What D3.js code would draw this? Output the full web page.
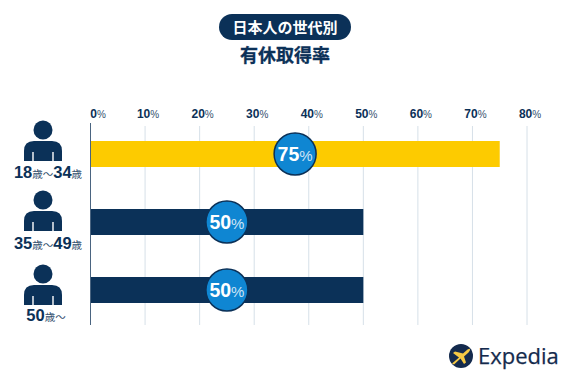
<!DOCTYPE html>
<html lang="ja">
<head>
<meta charset="utf-8">
<script src="https://d3js.org/d3.v7.min.js"></script>
<style>
  html, body { margin: 0; padding: 0; background: #fff; }
  svg { display: block; }
  text { font-family: "Liberation Sans", "Noto Sans CJK JP", sans-serif; }
</style>
</head>
<body>
<div id="chart"></div>
<script>
// Chart data
const ageGroups = ["18-34", "35-49", "50+"];
const leaveRates = [75, 50, 50];
const ageLabels = [
  [["18", "big"], ["歳", "small"], ["～", "small"], ["34", "big"], ["歳", "small"]],
  [["35", "big"], ["歳", "small"], ["～", "small"], ["49", "big"], ["歳", "small"]],
  [["50", "big"], ["歳", "small"], ["～", "small"]]
];
const axisTicks = [0, 10, 20, 30, 40, 50, 60, 70, 80];
const badgeTitle = "日本人の世代別";
const mainTitle = "有休取得率";

// Layout of the left column, the icons are not evenly spaced in the original
const personY = [130, 200, 274];
const labelY = [177.5, 249, 320.5];
const labelX = [48, 48, 46];

const navy = "#0b3158", yellow = "#fdcb00", blue = "#0f86d2", grid = "#d6e0e8";
const width = 570, height = 380;

const svg = d3.select("#chart").append("svg")
  .attr("width", width)
  .attr("height", height);

// Scales
const x = d3.scaleLinear().domain([0, 80]).range([90.5, 527]);
const y = d3.scalePoint().domain(ageGroups).range([154, 290]);
const barHeight = 26;

// Titles
svg.append("rect")
  .attr("x", 219).attr("y", 14)
  .attr("width", 132).attr("height", 26)
  .attr("rx", 13)
  .attr("fill", navy);

svg.append("text")
  .attr("x", 285).attr("y", 32.5)
  .attr("text-anchor", "middle")
  .attr("font-size", 15)
  .attr("font-weight", 700)
  .attr("fill", "#fff")
  .style("font-family", "'Noto Sans CJK JP'")
  .text(badgeTitle);

svg.append("text")
  .attr("x", 285).attr("y", 62)
  .attr("text-anchor", "middle")
  .attr("font-size", 18)
  .attr("font-weight", 700)
  .attr("fill", navy)
  .attr("stroke", navy)
  .attr("stroke-width", 0.3)
  .style("font-family", "'Noto Sans CJK JP'")
  .text(mainTitle);

// Grid lines
svg.append("g")
  .selectAll("line")
  .data(axisTicks.slice(1))
  .enter().append("line")
  .attr("x1", d => x(d)).attr("x2", d => x(d))
  .attr("y1", 126).attr("y2", 325)
  .attr("stroke", grid)
  .attr("stroke-width", 1);

// Top axis, labels restyled so the % sign is smaller
const axis = svg.append("g")
  .attr("transform", "translate(0,118)")
  .call(d3.axisTop(x).tickValues(axisTicks).tickSize(0).tickPadding(0));
axis.select(".domain").remove();
axis.selectAll("text").each(function(d) {
  const t = d3.select(this).text("")
    .attr("dx", d === 0 ? 7 : 2.5)
    .attr("dy", 0)
    .attr("fill", navy)
    .style("font-family", "'Liberation Sans'");
  t.append("tspan").attr("font-size", 12).attr("font-weight", 700).text(d);
  t.append("tspan").attr("font-size", 10).attr("fill", "#33506e").text("%");
});

// Bars
svg.selectAll(".bar")
  .data(ageGroups)
  .enter().append("rect")
  .attr("class", "bar")
  .attr("x", x(0))
  .attr("y", d => y(d) - barHeight / 2)
  .attr("width", (d, i) => x(leaveRates[i]) - x(0))
  .attr("height", barHeight)
  .attr("fill", (d, i) => i === 0 ? yellow : navy);

// Vertical axis line
svg.append("line")
  .attr("x1", x(0)).attr("x2", x(0))
  .attr("y1", 123).attr("y2", 325)
  .attr("stroke", "#4a6480")
  .attr("stroke-width", 1);

// Value bubbles sit at the middle of each bar
const bubble = svg.selectAll(".bubble")
  .data(ageGroups)
  .enter().append("g")
  .attr("class", "bubble")
  .attr("transform", (d, i) => `translate(${x(leaveRates[i] / 2)},${y(d)})`);

bubble.append("circle")
  .attr("r", 21)
  .attr("fill", blue)
  .attr("stroke", navy)
  .attr("stroke-width", 1.5);

const bubbleText = bubble.append("text")
  .attr("text-anchor", "middle")
  .attr("y", 6.5)
  .attr("fill", "#fff")
  .style("font-family", "'Liberation Sans'");
bubbleText.append("tspan").attr("font-size", 19.5).attr("font-weight", 700)
  .text((d, i) => leaveRates[i]);
bubbleText.append("tspan").attr("font-size", 15).attr("font-weight", 400)
  .attr("fill-opacity", 0.8).text("%");

// Person icons, origin is the centre of the head
const person = svg.selectAll(".person")
  .data(ageGroups)
  .enter().append("g")
  .attr("class", "person")
  .attr("transform", (d, i) => `translate(43,${personY[i]})`);

person.append("circle")
  .attr("r", 9.5)
  .attr("fill", navy);

person.append("path")
  .attr("fill", navy)
  .attr("d", "M-19,31 V21 Q-19,11 -9,11 H9 Q19,11 19,21 V31 H10.7 V22 H9.3 V31 H-9.3 V22 H-10.7 V31 Z");

// Age labels
svg.selectAll(".age-label")
  .data(ageGroups)
  .enter().append("text")
  .attr("class", "age-label")
  .attr("x", (d, i) => labelX[i])
  .attr("y", (d, i) => labelY[i])
  .attr("text-anchor", "middle")
  .each(function(d, i) {
    const t = d3.select(this);
    ageLabels[i].forEach(part => {
      const big = part[1] === "big";
      t.append("tspan")
        .attr("font-size", big ? 16.5 : 10.5)
        .attr("font-weight", big ? 700 : 400)
        .attr("fill", big ? navy : "#33506e")
        .style("font-family", big ? "'Liberation Sans'" : "'Noto Sans CJK JP'")
        .text(part[0]);
    });
  });

// Expedia logo
const logo = svg.append("g").attr("transform", "translate(461,356)");
logo.append("circle").attr("r", 12).attr("fill", "#142a4d");
logo.append("path")
  .attr("fill", "#f6c945")
  .attr("d", "M-9,7.5 L-2,1.5 L-8,-3 L-6,-4.5 L2,-2.5 L6.5,-6.5 Q8.5,-7.5 9,-7 Q9.5,-6 7.5,-3.5 L3,0.5 L5,6.5 L3,8 L-0.5,2.5 L-7,8.5 Z");
svg.append("text")
  .attr("x", 478).attr("y", 364)
  .attr("font-size", 22)
  .attr("fill", "#142a4d")
  .attr("stroke", "#142a4d")
  .attr("stroke-width", 0.25)
  .style("font-family", "'Open Sans'")
  .text("Expedia");
</script>
</body>
</html>
